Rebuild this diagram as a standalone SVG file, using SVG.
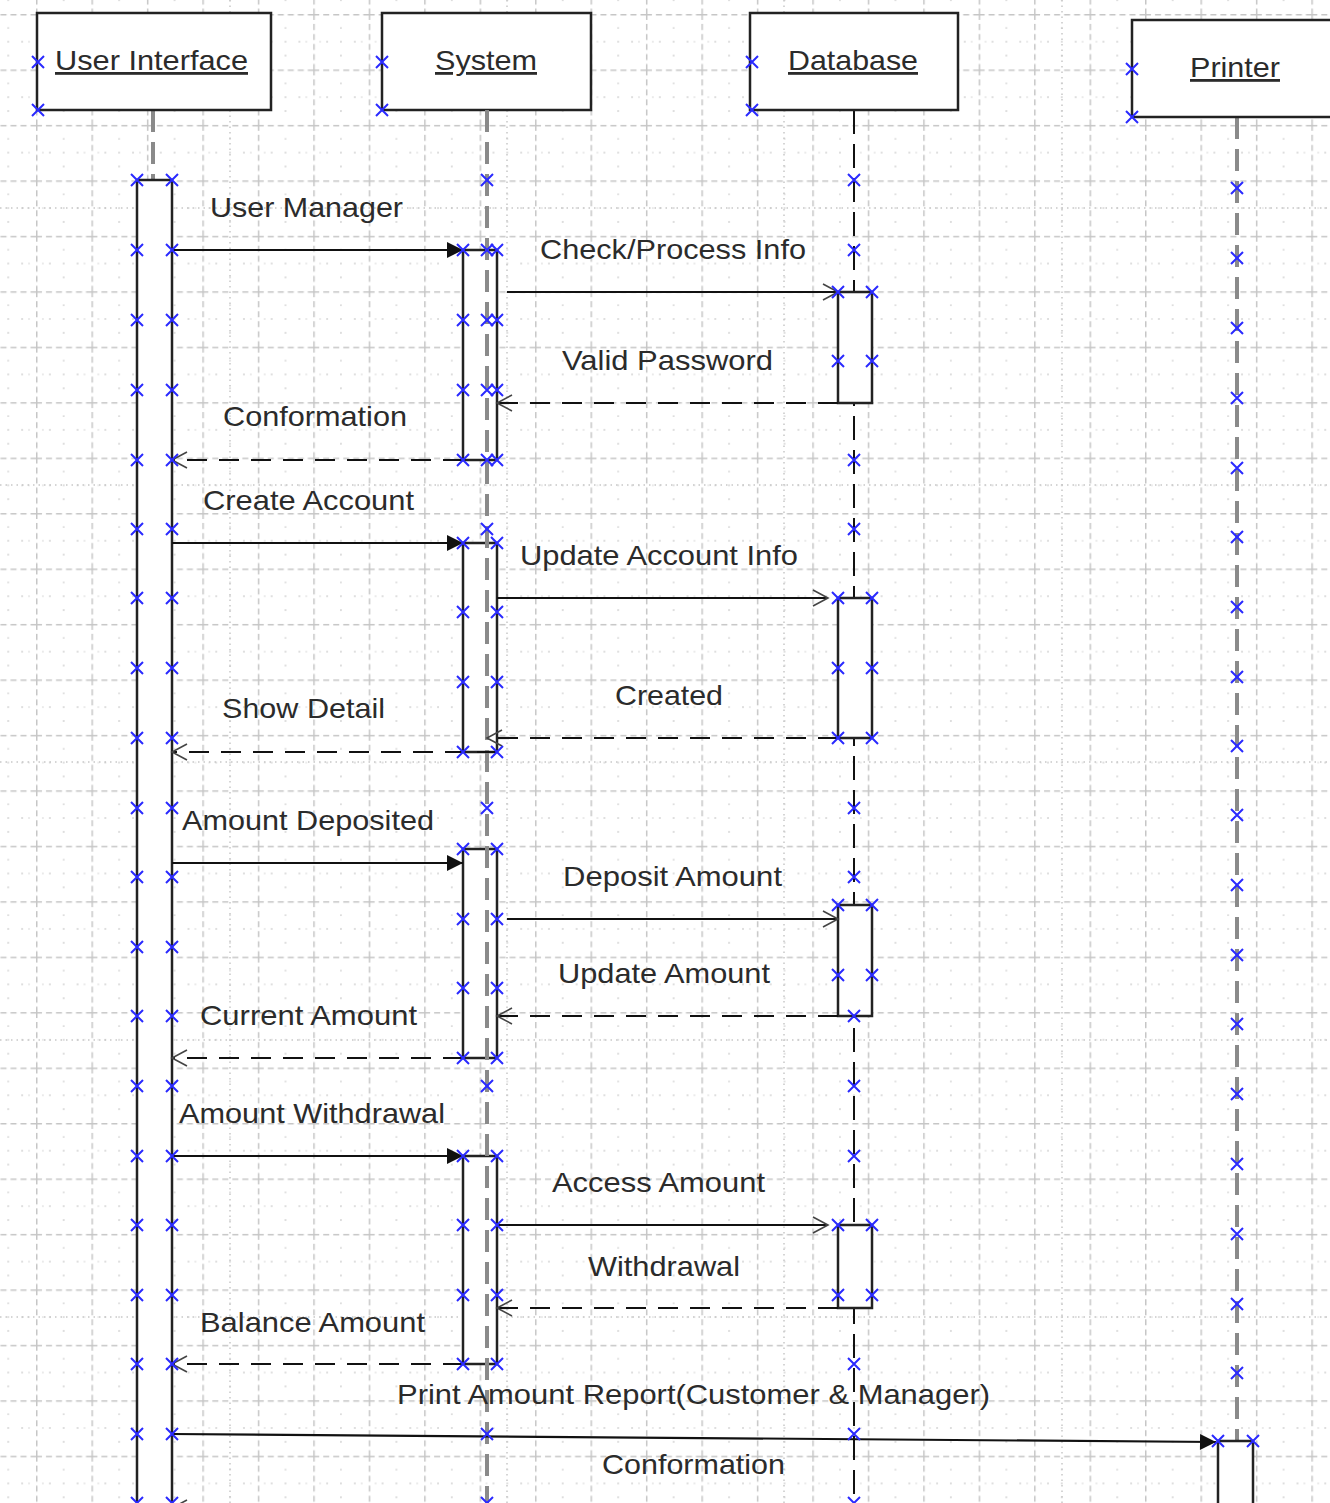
<svg xmlns="http://www.w3.org/2000/svg" xmlns:xlink="http://www.w3.org/1999/xlink" width="1330" height="1503" viewBox="0 0 1330 1503">
<style>
.hdr{fill:#fff;stroke:#222;stroke-width:2.5}
.act{fill:#fff;stroke:#222;stroke-width:2.5}
.name{font-family:"Liberation Sans",Arial,sans-serif;font-size:28px;fill:#2b2b2b;text-anchor:middle;text-decoration:underline}
.lbl{font-family:"Liberation Sans",Arial,sans-serif;font-size:28px;fill:#2b2b2b;text-anchor:middle}
.msg{fill:none;stroke:#111;stroke-width:2.2}
.ret{fill:none;stroke:#111;stroke-width:2.2;stroke-dasharray:20 12}
.llg{fill:none;stroke:#8a8a8a;stroke-width:4;stroke-dasharray:22 10}
.llb{fill:none;stroke:#111;stroke-width:2;stroke-dasharray:24 10}
.gdot{fill:none;stroke:#c8c8c8;stroke-width:1.5;stroke-dasharray:1.5 4}
.xm{fill:none;stroke:#2a2aff;stroke-width:2}
</style>
<defs>
<pattern id="grid" patternUnits="userSpaceOnUse" x="36" y="14" width="55.45" height="55.45">
<path d="M0,0.75 H55.45" stroke="#c6c6c6" stroke-width="1.5" stroke-dasharray="6 4" fill="none"/>
<path d="M0.75,0 V55.45" stroke="#c6c6c6" stroke-width="1.5" stroke-dasharray="6 4" fill="none"/>
<g fill="#cfcfcf">
<circle cx="27.7" cy="13.9" r="0.9"/><circle cx="27.7" cy="41.6" r="0.9"/>
<circle cx="13.9" cy="27.7" r="0.9"/><circle cx="41.6" cy="27.7" r="0.9"/>
<circle cx="27.7" cy="27.7" r="0.9"/><circle cx="6.9" cy="27.7" r="0.8"/><circle cx="48.5" cy="27.7" r="0.8"/>
</g>
</pattern>
<marker id="filled" markerUnits="userSpaceOnUse" viewBox="-18 -10 20 20" markerWidth="20" markerHeight="20" refX="0" refY="0" orient="auto">
<path d="M-16,-8 L0,0 L-16,8 Z" fill="#111"/>
</marker>
<marker id="open" markerUnits="userSpaceOnUse" viewBox="-18 -10 20 20" markerWidth="20" markerHeight="20" refX="0" refY="0" orient="auto">
<path d="M-15,-8 L0,0 L-15,8" fill="none" stroke="#444" stroke-width="1.6"/>
</marker>
<path id="x" class="xm" d="M-6,-6 L6,6 M-6,6 L6,-6"/>
</defs>

<rect x="0" y="0" width="1330" height="1503" fill="#fff"/>
<rect x="0" y="0" width="1330" height="1503" fill="url(#grid)"/>
<g id="grid-dotted">
<path class="gdot" d="M230,0 V1503 M507,0 V1503 M784,0 V1503 M1062,0 V1503"/>
<path class="gdot" d="M0,208 H1330 M0,485 H1330 M0,762 H1330 M0,1040 H1330 M0,1317 H1330"/>
</g>

<g id="lifelines">
<path class="llg" d="M153,110 V180"/>
<path class="llb" d="M854,110 V1503"/>
<path class="llg" d="M1237,117 V1441"/>
</g>

<g id="node-user-interface">
<rect class="hdr" x="37" y="13" width="234" height="97"/>
<text class="name" x="151.5" y="70" textLength="193" lengthAdjust="spacingAndGlyphs">User Interface</text>
</g>
<g id="node-system">
<rect class="hdr" x="382" y="13" width="209" height="97"/>
<text class="name" x="486" y="70" textLength="102" lengthAdjust="spacingAndGlyphs">System</text>
</g>
<g id="node-database">
<rect class="hdr" x="750" y="13" width="208" height="97"/>
<text class="name" x="853" y="70" textLength="130" lengthAdjust="spacingAndGlyphs">Database</text>
</g>
<g id="node-printer">
<rect class="hdr" x="1132" y="20" width="215" height="97"/>
<text class="name" x="1235" y="77" textLength="90" lengthAdjust="spacingAndGlyphs">Printer</text>
</g>

<g id="activation-ui"><rect class="act" x="137" y="180" width="35" height="1340"/></g>
<g id="activation-system-1"><rect class="act" x="463" y="250" width="34" height="210"/></g>
<g id="activation-system-2"><rect class="act" x="463" y="543" width="34" height="209"/></g>
<g id="activation-system-3"><rect class="act" x="463" y="849" width="34" height="209"/></g>
<g id="activation-system-4"><rect class="act" x="463" y="1156" width="34" height="208"/></g>
<g id="activation-db-1"><rect class="act" x="838" y="292" width="34" height="111"/></g>
<g id="activation-db-2"><rect class="act" x="838" y="598" width="34" height="140"/></g>
<g id="activation-db-3"><rect class="act" x="838" y="905" width="34" height="111"/></g>
<g id="activation-db-4"><rect class="act" x="838" y="1225" width="34" height="83"/></g>
<g id="activation-printer"><rect class="act" x="1218" y="1441" width="35" height="80"/></g>

<g id="lifeline-system">
<path class="llg" d="M487,110 V1503"/>
</g>

<g id="connectors">
<path class="msg" d="M172,250 H463" marker-end="url(#filled)"/>
<path class="msg" d="M507,292 H838" marker-end="url(#open)"/>
<path class="ret" d="M838,403 H497" marker-end="url(#open)"/>
<path class="ret" d="M463,460 H172" marker-end="url(#open)"/>
<path class="msg" d="M172,543 H463" marker-end="url(#filled)"/>
<path class="msg" d="M497,598 H828" marker-end="url(#open)"/>
<path class="ret" d="M838,738 H487" marker-end="url(#open)"/>
<path class="ret" d="M497,752 H172" marker-end="url(#open)"/>
<path class="msg" d="M172,863 H463" marker-end="url(#filled)"/>
<path class="msg" d="M507,919 H838" marker-end="url(#open)"/>
<path class="ret" d="M838,1016 H497" marker-end="url(#open)"/>
<path class="ret" d="M463,1058 H172" marker-end="url(#open)"/>
<path class="msg" d="M172,1156 H463" marker-end="url(#filled)"/>
<path class="msg" d="M497,1225 H828" marker-end="url(#open)"/>
<path class="ret" d="M838,1308 H497" marker-end="url(#open)"/>
<path class="ret" d="M463,1364 H172" marker-end="url(#open)"/>
<path class="msg" d="M172,1434 L1216,1442" marker-end="url(#filled)"/>
<path class="ret" d="M1218,1508 H172" marker-end="url(#open)"/>
</g>

<g id="labels">
<text class="lbl" x="306.5" y="217" textLength="193" lengthAdjust="spacingAndGlyphs">User Manager</text>
<text class="lbl" x="673" y="259" textLength="266" lengthAdjust="spacingAndGlyphs">Check/Process Info</text>
<text class="lbl" x="667.5" y="370" textLength="211" lengthAdjust="spacingAndGlyphs">Valid Password</text>
<text class="lbl" x="315" y="426" textLength="184" lengthAdjust="spacingAndGlyphs">Conformation</text>
<text class="lbl" x="308.5" y="510" textLength="211" lengthAdjust="spacingAndGlyphs">Create Account</text>
<text class="lbl" x="659" y="565" textLength="278" lengthAdjust="spacingAndGlyphs">Update Account Info</text>
<text class="lbl" x="669" y="705" textLength="108" lengthAdjust="spacingAndGlyphs">Created</text>
<text class="lbl" x="303.5" y="718" textLength="163" lengthAdjust="spacingAndGlyphs">Show Detail</text>
<text class="lbl" x="308" y="830" textLength="252" lengthAdjust="spacingAndGlyphs">Amount Deposited</text>
<text class="lbl" x="672.5" y="886" textLength="219" lengthAdjust="spacingAndGlyphs">Deposit Amount</text>
<text class="lbl" x="664" y="983" textLength="212" lengthAdjust="spacingAndGlyphs">Update Amount</text>
<text class="lbl" x="308.5" y="1025" textLength="217" lengthAdjust="spacingAndGlyphs">Current Amount</text>
<text class="lbl" x="312" y="1123" textLength="266" lengthAdjust="spacingAndGlyphs">Amount Withdrawal</text>
<text class="lbl" x="658.5" y="1192" textLength="213" lengthAdjust="spacingAndGlyphs">Access Amount</text>
<text class="lbl" x="664" y="1276" textLength="152" lengthAdjust="spacingAndGlyphs">Withdrawal</text>
<text class="lbl" x="312.5" y="1332" textLength="225" lengthAdjust="spacingAndGlyphs">Balance Amount</text>
<text class="lbl" x="693.5" y="1404" textLength="593" lengthAdjust="spacingAndGlyphs">Print Amount Report(Customer &amp; Manager)</text>
<text class="lbl" x="693.5" y="1474" textLength="183" lengthAdjust="spacingAndGlyphs">Conformation</text>
</g>

<g id="connection-points">
<use href="#x" x="38" y="62"/><use href="#x" x="38" y="110"/>
<use href="#x" x="382" y="62"/><use href="#x" x="382" y="110"/>
<use href="#x" x="752" y="62"/><use href="#x" x="752" y="110"/>
<use href="#x" x="1132" y="69"/><use href="#x" x="1132" y="117"/>
<use href="#x" x="137" y="180"/><use href="#x" x="172" y="180"/>
<use href="#x" x="137" y="250"/><use href="#x" x="172" y="250"/>
<use href="#x" x="137" y="320"/><use href="#x" x="172" y="320"/>
<use href="#x" x="137" y="390"/><use href="#x" x="172" y="390"/>
<use href="#x" x="137" y="460"/><use href="#x" x="172" y="460"/>
<use href="#x" x="137" y="529"/><use href="#x" x="172" y="529"/>
<use href="#x" x="137" y="598"/><use href="#x" x="172" y="598"/>
<use href="#x" x="137" y="668"/><use href="#x" x="172" y="668"/>
<use href="#x" x="137" y="738"/><use href="#x" x="172" y="738"/>
<use href="#x" x="137" y="808"/><use href="#x" x="172" y="808"/>
<use href="#x" x="137" y="877"/><use href="#x" x="172" y="877"/>
<use href="#x" x="137" y="947"/><use href="#x" x="172" y="947"/>
<use href="#x" x="137" y="1016"/><use href="#x" x="172" y="1016"/>
<use href="#x" x="137" y="1086"/><use href="#x" x="172" y="1086"/>
<use href="#x" x="137" y="1156"/><use href="#x" x="172" y="1156"/>
<use href="#x" x="137" y="1225"/><use href="#x" x="172" y="1225"/>
<use href="#x" x="137" y="1295"/><use href="#x" x="172" y="1295"/>
<use href="#x" x="137" y="1364"/><use href="#x" x="172" y="1364"/>
<use href="#x" x="137" y="1434"/><use href="#x" x="172" y="1434"/>
<use href="#x" x="137" y="1503"/><use href="#x" x="172" y="1503"/>
<use href="#x" x="487" y="180"/><use href="#x" x="487" y="529"/><use href="#x" x="487" y="808"/>
<use href="#x" x="487" y="1086"/><use href="#x" x="487" y="1434"/><use href="#x" x="487" y="1503"/>
<use href="#x" x="463" y="250"/><use href="#x" x="487" y="250"/><use href="#x" x="497" y="250"/>
<use href="#x" x="463" y="320"/><use href="#x" x="487" y="320"/><use href="#x" x="497" y="320"/>
<use href="#x" x="463" y="390"/><use href="#x" x="487" y="390"/><use href="#x" x="497" y="390"/>
<use href="#x" x="463" y="460"/><use href="#x" x="487" y="460"/><use href="#x" x="497" y="460"/>
<use href="#x" x="463" y="543"/><use href="#x" x="497" y="543"/>
<use href="#x" x="463" y="612"/><use href="#x" x="497" y="612"/>
<use href="#x" x="463" y="682"/><use href="#x" x="497" y="682"/>
<use href="#x" x="463" y="752"/><use href="#x" x="497" y="752"/>
<use href="#x" x="463" y="849"/><use href="#x" x="497" y="849"/>
<use href="#x" x="463" y="919"/><use href="#x" x="497" y="919"/>
<use href="#x" x="463" y="988"/><use href="#x" x="497" y="988"/>
<use href="#x" x="463" y="1058"/><use href="#x" x="497" y="1058"/>
<use href="#x" x="463" y="1156"/><use href="#x" x="497" y="1156"/>
<use href="#x" x="463" y="1225"/><use href="#x" x="497" y="1225"/>
<use href="#x" x="463" y="1295"/><use href="#x" x="497" y="1295"/>
<use href="#x" x="463" y="1364"/><use href="#x" x="497" y="1364"/>
<use href="#x" x="854" y="180"/><use href="#x" x="854" y="250"/><use href="#x" x="854" y="460"/>
<use href="#x" x="854" y="529"/><use href="#x" x="854" y="808"/><use href="#x" x="854" y="877"/>
<use href="#x" x="854" y="1016"/><use href="#x" x="854" y="1086"/><use href="#x" x="854" y="1156"/>
<use href="#x" x="854" y="1364"/><use href="#x" x="854" y="1434"/><use href="#x" x="854" y="1503"/>
<use href="#x" x="838" y="292"/><use href="#x" x="872" y="292"/>
<use href="#x" x="838" y="361"/><use href="#x" x="872" y="361"/>
<use href="#x" x="838" y="598"/><use href="#x" x="872" y="598"/>
<use href="#x" x="838" y="668"/><use href="#x" x="872" y="668"/>
<use href="#x" x="838" y="738"/><use href="#x" x="872" y="738"/>
<use href="#x" x="838" y="905"/><use href="#x" x="872" y="905"/>
<use href="#x" x="838" y="975"/><use href="#x" x="872" y="975"/>
<use href="#x" x="838" y="1225"/><use href="#x" x="872" y="1225"/>
<use href="#x" x="838" y="1295"/><use href="#x" x="872" y="1295"/>
<use href="#x" x="1237" y="188"/><use href="#x" x="1237" y="258"/><use href="#x" x="1237" y="328"/>
<use href="#x" x="1237" y="398"/><use href="#x" x="1237" y="468"/><use href="#x" x="1237" y="537"/>
<use href="#x" x="1237" y="607"/><use href="#x" x="1237" y="677"/><use href="#x" x="1237" y="746"/>
<use href="#x" x="1237" y="815"/><use href="#x" x="1237" y="885"/><use href="#x" x="1237" y="955"/>
<use href="#x" x="1237" y="1024"/><use href="#x" x="1237" y="1094"/><use href="#x" x="1237" y="1164"/>
<use href="#x" x="1237" y="1234"/><use href="#x" x="1237" y="1304"/><use href="#x" x="1237" y="1373"/>
<use href="#x" x="1218" y="1441"/><use href="#x" x="1253" y="1441"/>
</g>
</svg>
